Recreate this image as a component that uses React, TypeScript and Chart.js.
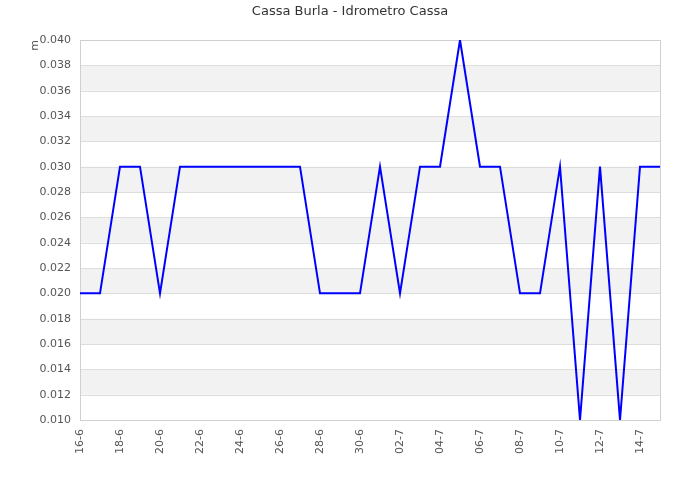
import React, { useEffect, useRef } from "react";
import { Chart, registerables } from "chart.js";

Chart.register(...registerables);

const TITLE = "Cassa Burla - Idrometro Cassa";
const Y_UNIT = "m";
const DATES = [
  "16-6", "17-6", "18-6", "19-6", "20-6", "21-6", "22-6", "23-6", "24-6", "25-6",
  "26-6", "27-6", "28-6", "29-6", "30-6", "01-7", "02-7", "03-7", "04-7", "05-7",
  "06-7", "07-7", "08-7", "09-7", "10-7", "11-7", "12-7", "13-7", "14-7", "15-7",
];
const LEVELS = [
  0.02, 0.02, 0.03, 0.03, 0.02, 0.03, 0.03, 0.03, 0.03, 0.03,
  0.03, 0.03, 0.02, 0.02, 0.02, 0.03, 0.02, 0.03, 0.03, 0.04,
  0.03, 0.03, 0.02, 0.02, 0.03, 0.01, 0.03, 0.01, 0.03, 0.03,
];
const Y_MIN = 0.01;
const Y_MAX = 0.04;
const Y_STEP = 0.002;

const FONT = "'DejaVu Sans', Verdana, sans-serif";

const bandsPlugin = {
  id: "bands",
  beforeDatasetsDraw(chart: any) {
    const { ctx, chartArea, scales } = chart;
    const y = scales.y;
    ctx.save();
    const ticks = y.ticks;
    for (let i = 0; i < ticks.length - 1; i++) {
      if (i % 2 === 1) {
        const y1 = y.getPixelForValue(ticks[i].value);
        const y2 = y.getPixelForValue(ticks[i + 1].value);
        ctx.fillStyle = "#f2f2f2";
        ctx.fillRect(chartArea.left, Math.min(y1, y2), chartArea.right - chartArea.left, Math.abs(y2 - y1));
      }
    }
    ctx.strokeStyle = "#dddddd";
    ctx.lineWidth = 1;
    for (let i = 0; i < ticks.length; i++) {
      const py = Math.round(y.getPixelForValue(ticks[i].value)) + 0.5;
      ctx.beginPath();
      ctx.moveTo(chartArea.left, py);
      ctx.lineTo(chartArea.right, py);
      ctx.stroke();
    }
    ctx.strokeStyle = "#d0d0d0";
    ctx.strokeRect(
      Math.round(chartArea.left) + 0.5,
      Math.round(chartArea.top) + 0.5,
      Math.round(chartArea.right - chartArea.left),
      Math.round(chartArea.bottom - chartArea.top)
    );
    ctx.restore();
  },
};

export default function App() {
  const ref = useRef<HTMLCanvasElement | null>(null);
  useEffect(() => {
    if (!ref.current) return;
    const chart = new Chart(ref.current, {
      type: "line",
      data: {
        labels: DATES,
        datasets: [
          {
            data: LEVELS,
            borderColor: "#0000ff",
            borderWidth: 2,
            pointRadius: 0,
            tension: 0,
            fill: false,
          },
        ],
      },
      options: {
        animation: false,
        responsive: false,
        maintainAspectRatio: false,
        layout: { padding: { top: 0, right: 40, bottom: 0, left: 40 } },
        plugins: {
          legend: { display: false },
          tooltip: { enabled: false },
          title: {
            display: true,
            text: TITLE,
            color: "#333333",
            font: { family: FONT, size: 13, weight: "normal" },
            padding: { top: 4, bottom: 20.4 },
          },
        },
        scales: {
          x: {
            type: "category",
            offset: false,
            grid: { display: false, drawTicks: false },
            border: { display: false },
            ticks: {
              autoSkip: false,
              maxRotation: 90,
              minRotation: 90,
              padding: 9,
              color: "#555555",
              font: { family: FONT, size: 11 },
              callback: (_v: any, i: number) => (i % 2 === 0 ? DATES[i] : ""),
            },
            afterFit: (s: any) => {
              s.height = 80;
            },
          },
          y: {
            min: Y_MIN,
            max: Y_MAX,
            grid: { display: false, drawTicks: false },
            border: { display: false },
            title: {
              display: true,
              text: Y_UNIT,
              align: "end",
              color: "#555555",
              font: { family: FONT, size: 11 },
              padding: { top: -11, bottom: 0 },
            },
            ticks: {
              stepSize: Y_STEP,
              padding: 9,
              color: "#555555",
              font: { family: FONT, size: 11 },
              callback: (v: any) => Number(v).toFixed(3),
            },
            afterFit: (s: any) => {
              s.width = 40;
            },
          },
        },
      },
      plugins: [bandsPlugin],
    });
    return () => chart.destroy();
  }, []);
  return (
    <div style={{ position: "absolute", left: 0, top: 0, width: 700, height: 500, background: "#fff" }}>
      <canvas ref={ref} width={700} height={500} style={{ width: 700, height: 500 }} />
    </div>
  );
}
